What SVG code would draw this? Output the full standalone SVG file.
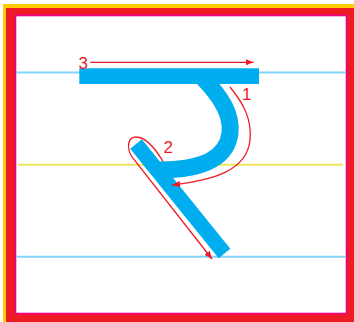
<svg xmlns="http://www.w3.org/2000/svg" width="354" height="322" viewBox="0 0 354 322">
<style>
.guide{stroke-width:2;fill:none}
.stroke{stroke:#00AEEF;fill:none}
.arrow{stroke:#ED1C24;stroke-width:1.3;fill:none}
.lbl{font-family:"Liberation Sans",Arial,sans-serif;font-size:17px;fill:#ED1C24}
</style>
<defs>
<marker id="ah" viewBox="0 0 10 8" refX="10" refY="4" markerWidth="8" markerHeight="6.5" markerUnits="userSpaceOnUse" orient="auto">
<path d="M0,0 L10,4 L0,8 Z" fill="#ED1C24"/>
</marker>
</defs>
<g id="frame">
<rect x="3" y="4" width="351" height="318" fill="#FFCB05"/>
<rect x="6" y="8" width="348" height="314" fill="#ED1C24"/>
<rect x="15.5" y="15.5" width="331" height="298" fill="#FFFFFF" stroke="#EC008C" stroke-width="1.6"/>
</g>
<g id="guides">
<line class="guide" x1="16" y1="72.5" x2="346" y2="72.5" stroke="#86D4F5"/>
<line class="guide" x1="18" y1="164.7" x2="343" y2="164.7" stroke="#EDE65A"/>
<line class="guide" x1="16" y1="256.7" x2="346" y2="256.7" stroke="#86D4F5"/>
</g>
<g id="headline">
<rect x="79.3" y="68.3" width="179.7" height="15.7" fill="#00AEEF"/>
</g>
<g id="curve">
<path class="stroke" stroke-width="17" d="M203 78 C222 98 232 115 230 133 C227 158 204 170 158 170"/>
</g>
<g id="diagonal">
<line class="stroke" stroke-width="15" x1="136" y1="144" x2="224.5" y2="253.5"/>
</g>
<g id="connectors">
<path class="arrow" marker-end="url(#ah)" d="M230 87 C244 104 252 120 250 140 C247 170 215 180 172 185"/>
<path class="arrow" marker-end="url(#ah)" d="M163 161.5 C155 148 146 137 136 137 C128 137 126 147 132 157 L212 259"/>
<path class="arrow" marker-end="url(#ah)" d="M90 62.3 L253.5 62.3"/>
</g>
<g id="labels">
<text class="lbl" x="242" y="100">1</text>
<text class="lbl" x="163.5" y="152.7">2</text>
<text class="lbl" x="78.5" y="69">3</text>
</g>
</svg>
